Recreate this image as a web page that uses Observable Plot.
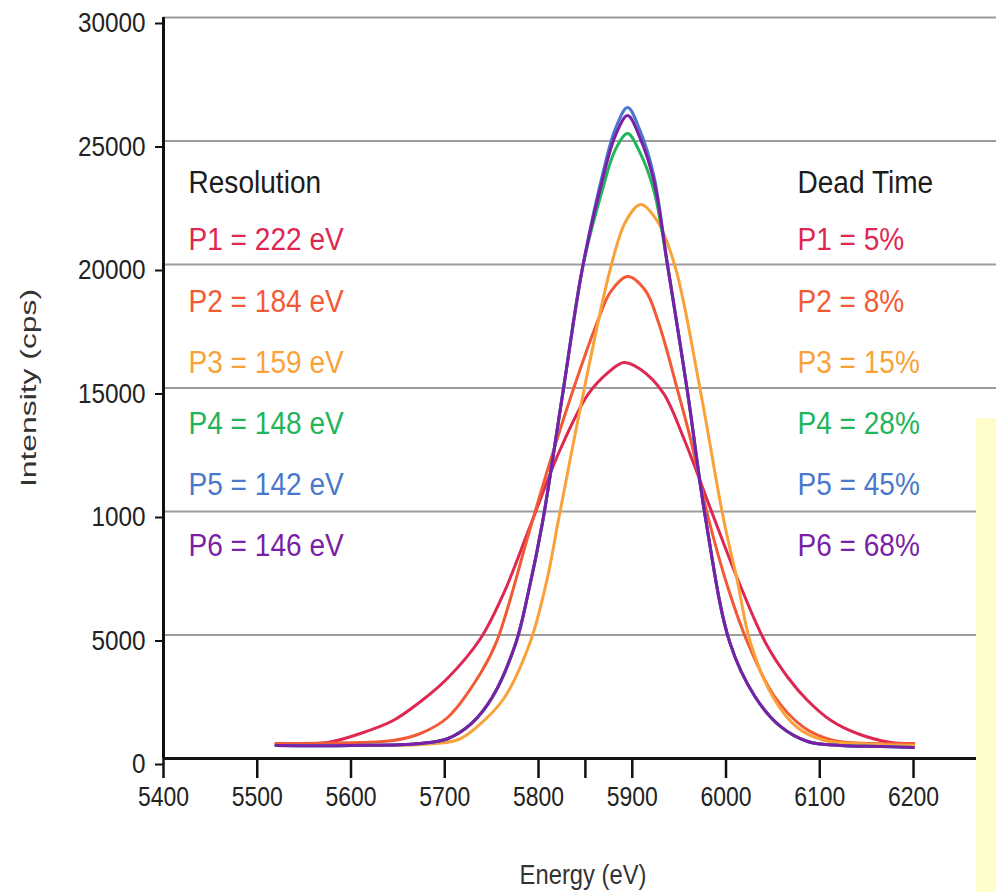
<!DOCTYPE html>
<html><head><meta charset="utf-8">
<script src="https://cdn.jsdelivr.net/npm/d3@7"></script>
<script src="https://cdn.jsdelivr.net/npm/@observablehq/plot@0.6"></script>
<style>
html,body{margin:0;padding:0;background:#fff;}
#wrap{position:relative;width:996px;height:892px;overflow:hidden;}
#strip{position:absolute;left:976px;top:418px;width:20px;height:474px;background:#fffccc;}
</style></head><body>
<div id="wrap"><div id="chart"></div><div id="strip"></div></div>
<script>
const series = ["P1", "P2", "P3", "P4", "P5", "P6"];
const resolutionEV = [222, 184, 159, 148, 142, 146];
const deadTimePct = [5, 8, 15, 28, 45, 68];
const seriesColors = ["#de2751", "#f25a36", "#f9a23a", "#22b45a", "#4a78cc", "#7a1fa6"];

const xTicks = [5400, 5500, 5600, 5700, 5800, 5850, 5900, 6000, 6100, 6200];
const yTicks = [0, 5000, 10000, 15000, 20000, 25000, 30000];
const yTickLabels = ["0", "5000", "1000", "15000", "20000", "25000", "30000"];

const energyP1 = [5520, 5575, 5610, 5645, 5674, 5703, 5738, 5763, 5791, 5823, 5853, 5875, 5891, 5909, 5933, 5955, 5987, 6013, 6042, 6066, 6087, 6112, 6140, 6176, 6200];
const countsP1 = [607, 648, 1012, 1539, 2300, 3250, 4850, 6700, 9400, 12500, 14750, 15650, 16033, 15750, 14800, 12955, 9757, 7206, 4696, 3279, 2348, 1538, 1012, 648, 607];

const energyP2 = [5520, 5610, 5645, 5674, 5703, 5738, 5756, 5791, 5813, 5836, 5863, 5877, 5895, 5914, 5928, 5949, 5962, 5981, 6002, 6023, 6051, 6083, 6115, 6154, 6200];
const countsP2 = [607, 648, 729, 1012, 1660, 3441, 4800, 9300, 12100, 14818, 17700, 18900, 19514, 18947, 17652, 14818, 12955, 9757, 6923, 4696, 2551, 1255, 729, 607, 607];

const energyP3 = [5520, 5600, 5674, 5714, 5735, 5763, 5791, 5810, 5821, 5848, 5877, 5893, 5909, 5927, 5946, 5973, 5997, 6012, 6026, 6051, 6076, 6105, 6140, 6200];
const countsP3 = [526, 526, 567, 760, 1300, 2429, 4696, 7400, 9600, 14818, 19879, 21741, 22429, 21741, 19879, 14818, 9757, 7206, 4696, 2429, 1255, 729, 607, 526];

const energyP4 = [5520, 5600, 5674, 5703, 5728, 5751, 5776, 5789, 5804, 5826, 5847, 5868, 5882, 5895, 5908, 5923, 5938, 5959, 5978, 6004, 6031, 6058, 6087, 6122, 6165, 6200];
const countsP4 = [526, 526, 607, 800, 1400, 2500, 4700, 6700, 9500, 14820, 19880, 23000, 24650, 25300, 24550, 23000, 19880, 14820, 9760, 4700, 2500, 1300, 690, 526, 486, 445];

const energyP5 = [5520, 5600, 5674, 5703, 5728, 5751, 5776, 5789, 5804, 5826, 5847, 5868, 5882, 5895, 5908, 5923, 5938, 5959, 5978, 6004, 6031, 6058, 6087, 6122, 6165, 6200];
const countsP5 = [526, 526, 607, 800, 1400, 2500, 4700, 6700, 9500, 14820, 19880, 23600, 25500, 26360, 25450, 23600, 19880, 14820, 9760, 4700, 2500, 1300, 690, 526, 486, 445];

const energyP6 = [5520, 5600, 5674, 5703, 5728, 5751, 5776, 5789, 5804, 5826, 5847, 5868, 5882, 5895, 5908, 5923, 5938, 5959, 5978, 6004, 6031, 6058, 6087, 6122, 6165, 6200];
const countsP6 = [526, 526, 607, 800, 1400, 2500, 4700, 6700, 9500, 14820, 19880, 23400, 25220, 26030, 25150, 23400, 19880, 14820, 9760, 4700, 2500, 1300, 690, 526, 486, 445];

const energies = [energyP1, energyP2, energyP3, energyP4, energyP5, energyP6];
const counts = [countsP1, countsP2, countsP3, countsP4, countsP5, countsP6];

const rows = series.flatMap((s, i) => energies[i].map((e, j) => ({series: s, energy: e, counts: counts[i][j]})));

const FONT = "'Liberation Sans', Arial, Helvetica, sans-serif";
const yLabelMap = new Map(yTicks.map((t, i) => [t, yTickLabels[i]]));

const legendOpts = {text: d => d, frameAnchor: "top-left", textAnchor: "start", lineAnchor: "middle", fontSize: 31};
const legendTexts = new Set(["Resolution", "Dead Time"]);
const legendMarks = [];
legendMarks.push(Plot.text(["Resolution"], {...legendOpts, dx: 25, dy: 166, fill: "#1c1c1c"}));
legendMarks.push(Plot.text(["Dead Time"], {...legendOpts, dx: 634, dy: 166, fill: "#1c1c1c"}));
series.forEach((s, i) => {
  const a = `${s} = ${resolutionEV[i]} eV`, b = `${s} = ${deadTimePct[i]}%`;
  legendTexts.add(a); legendTexts.add(b);
  legendMarks.push(Plot.text([a], {...legendOpts, dx: 25, dy: 223 + 61.2 * i, fill: seriesColors[i]}));
  legendMarks.push(Plot.text([b], {...legendOpts, dx: 634, dy: 223 + 61.2 * i, fill: seriesColors[i]}));
});

const svg = Plot.plot({
  width: 996,
  height: 892,
  marginLeft: 163,
  marginRight: 0,
  marginTop: 17,
  marginBottom: 134,
  style: {fontFamily: FONT, fontSize: "27px", background: "transparent", overflow: "visible"},
  x: {domain: [5400, 6288.5]},
  y: {domain: [0, 30000]},
  color: {domain: series, range: seriesColors},
  marks: [
    Plot.gridY(yTicks, {stroke: "#9c9c9c", strokeOpacity: 1, strokeWidth: 2.2}),
    Plot.axisY(yTicks, {tickSize: 8, tickPadding: 10, dy: 6, tickFormat: d => yLabelMap.get(d), fontSize: 27, fill: "#222", stroke: "#111", strokeWidth: 2, label: null}),
    Plot.axisX(xTicks, {tickSize: 20, tickPadding: 8, tickFormat: d => d === 5850 ? "" : String(d), fontSize: 27, fill: "#222", stroke: "#111", strokeWidth: 2.5, label: null}),
    Plot.ruleX([5400], {y1: 0, y2: 30000, stroke: "#111", strokeWidth: 3}),
    Plot.ruleY([0], {stroke: "#111", strokeWidth: 3}),
    Plot.line(rows, {x: "energy", y: "counts", z: "series", stroke: "series", strokeWidth: 3, curve: "catmull-rom"}),
    ...legendMarks,
    Plot.text(["Energy (eV)"], {text: d => d, frameAnchor: "bottom", textAnchor: "middle", lineAnchor: "middle", dy: 117, dx: 3, fontSize: 27, fill: "#333"}),
    Plot.text(["Intensity (cps)"], {text: d => d, frameAnchor: "left", textAnchor: "middle", lineAnchor: "middle", dx: -135, rotate: -90, fontSize: 22, fill: "#333"})
  ]
});

document.getElementById("chart").append(svg);

svg.querySelectorAll("text").forEach(t => {
  const w = t.getComputedTextLength();
  if (!w) return;
  const s = t.textContent;
  let len;
  if (s === "Intensity (cps)") len = 198;
  else if (s === "Energy (eV)") len = w * 0.88;
  else if (legendTexts.has(s)) len = w * 0.905;
  else if (getComputedStyle(t).textAnchor === "end") len = w * 0.9;
  else len = w * 0.85;
  t.setAttribute("textLength", len.toFixed(1));
  t.setAttribute("lengthAdjust", "spacingAndGlyphs");
});
</script>
</body></html>
